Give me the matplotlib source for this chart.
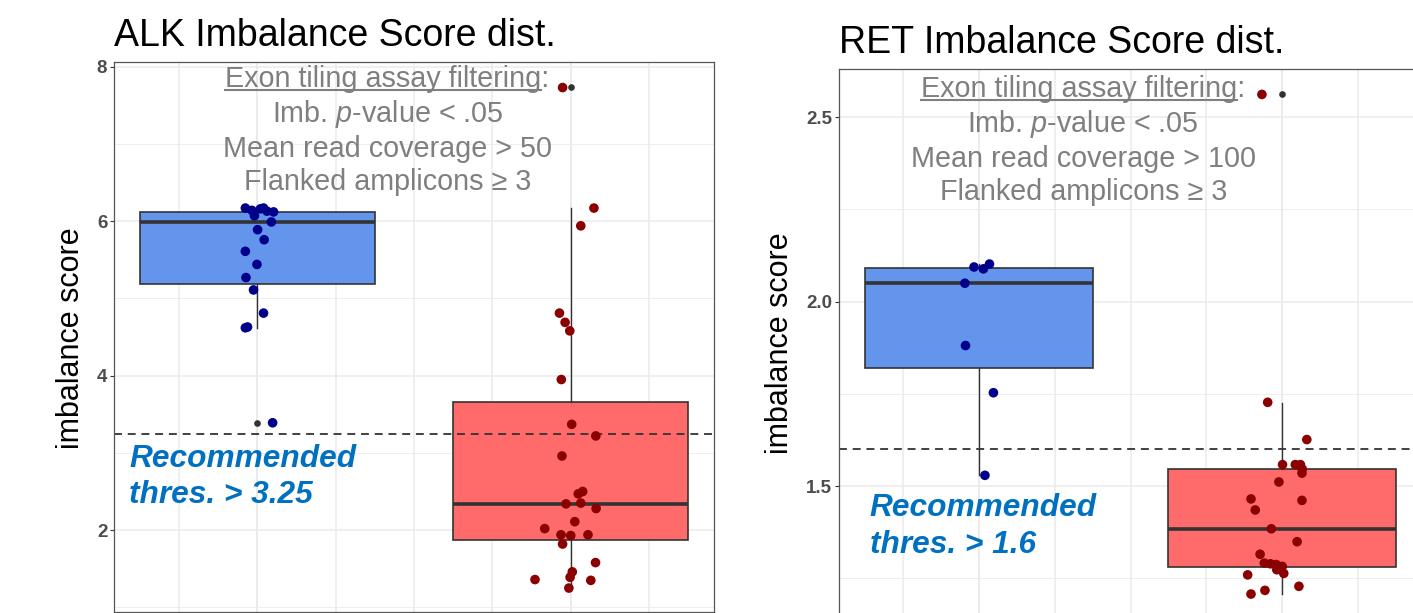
import matplotlib
matplotlib.use("Agg")
import matplotlib.pyplot as plt
from matplotlib.lines import Line2D

plt.rcParams['font.family'] = ['Liberation Sans', 'DejaVu Sans']
plt.rcParams['mathtext.fontset'] = 'custom'
plt.rcParams['mathtext.rm'] = 'Liberation Sans'
plt.rcParams['mathtext.it'] = 'Liberation Sans:italic'

# ---- ALK data ----
alk_blue_x = [0.962, 0.983, 0.991, 1.020, 1.031, 1.052, 1.010, 1.045, 1.001, 1.022,
              0.962, 0.999, 0.964, 0.988, 1.020, 0.962, 0.969, 1.049]
alk_blue_y = [6.17, 6.14, 6.07, 6.17, 6.13, 6.12, 6.16, 5.99, 5.89, 5.76,
              5.61, 5.44, 5.27, 5.11, 4.81, 4.62, 4.63, 3.39]
alk_red_x = [2.074, 2.032, 1.964, 1.982, 1.997, 1.970, 2.003, 2.080, 1.972, 2.024,
             2.038, 1.985, 2.032, 2.081, 2.013, 1.917, 1.969, 2.000, 2.055, 1.974,
             2.079, 2.005, 1.998, 1.886, 2.064, 1.994, 1.974]
alk_red_y = [6.17, 5.94, 4.81, 4.69, 4.58, 3.95, 3.37, 3.22, 2.96, 2.47,
             2.50, 2.34, 2.35, 2.28, 2.11, 2.02, 1.94, 1.93, 1.94, 1.82,
             1.58, 1.46, 1.39, 1.36, 1.35, 1.25, 7.73]
# box stats: q1, median, q3, whisker low, whisker high, outliers
alk_blue_box = [5.185, 5.99, 6.12, 4.62, 6.17, [3.39]]
alk_red_box = [1.87, 2.34, 3.66, 1.22, 6.17, [7.74]]
alk_thres = 3.25

# ---- RET data ----
ret_blue_x = [0.984, 1.015, 1.035, 0.954, 0.956, 1.048, 1.020]
ret_blue_y = [2.094, 2.089, 2.102, 2.050, 1.881, 1.753, 1.529]
ret_red_x = [1.952, 2.081, 2.001, 2.043, 2.060, 2.066, 2.065, 1.989, 1.897, 2.065,
             1.911, 1.964, 2.049, 1.927, 1.941, 1.961, 1.980, 2.000, 1.982, 2.005,
             1.886, 2.055, 1.943, 1.897, 1.933]
ret_red_y = [1.727, 1.626, 1.558, 1.558, 1.558, 1.546, 1.535, 1.511, 1.465, 1.461,
             1.435, 1.384, 1.349, 1.315, 1.291, 1.289, 1.287, 1.282, 1.273, 1.263,
             1.259, 1.228, 1.217, 1.207, 2.562]
ret_blue_box = [1.819, 2.050, 2.091, 1.53, 2.102, []]
ret_red_box = [1.280, 1.383, 1.546, 1.207, 1.725, [2.562]]
ret_thres = 1.6

W, H = 1413, 613
fig = plt.figure(figsize=(W / 100, H / 100), dpi=100)


def px_axes(x0, x1, ytop, ybot):
    return fig.add_axes([x0 / W, 1 - ybot / H, (x1 - x0) / W, (ybot - ytop) / H])


GREY = '#7F7F7F'
BLUE_TXT = '#0070C0'


def panel(ax, title, bx, by, rx, ry, bbox, rbox, thres, yticks, ylabels, yminor,
          cov, tx, tys, rec_x, rec_ys, lab_xy):
    ax.set_axisbelow(True)
    ax.set_xticks([0.75, 1.0, 1.25, 1.5, 1.75, 2.0, 2.25])
    ax.tick_params(axis='x', length=0, labelbottom=False)
    ax.set_yticks(yticks, labels=ylabels, fontweight='bold')
    ax.set_yticks(yminor, minor=True)
    ax.tick_params(axis='y', which='major', labelsize=13.5, labelcolor='#4D4D4D',
                   color='#333333', length=2.8, width=0.8, pad=2)
    ax.tick_params(axis='y', which='minor', length=0)
    ax.grid(which='major', color='#EBEBEB', lw=1.1)
    ax.grid(which='minor', axis='y', color='#EBEBEB', lw=0.6)
    for s in ax.spines.values():
        s.set_color('#555555')
        s.set_linewidth(0.9)

    stats = []
    for b in (bbox, rbox):
        stats.append(dict(q1=b[0], med=b[1], q3=b[2], whislo=b[3], whishi=b[4], fliers=b[5]))
    bp = ax.bxp(stats, positions=[1, 2], widths=0.75, patch_artist=True, showcaps=False,
                boxprops=dict(edgecolor='#333333', lw=1.2),
                medianprops=dict(color='#333333', lw=2.6),
                whiskerprops=dict(color='#333333', lw=1.0),
                flierprops=dict(marker='o', markerfacecolor='#333333',
                                markeredgecolor='none', markersize=4.8))
    bp['boxes'][0].set_facecolor('#6495ED')
    bp['boxes'][1].set_facecolor('#FF6A6A')

    ax.axhline(thres, color='#333333', lw=1.3, ls=(0, (4.4, 3.2)), zorder=2.5)
    ax.scatter(bx, by, s=48, c='#00008B', edgecolors='none', zorder=3)
    ax.scatter(rx, ry, s=48, c='#8B0000', edgecolors='none', zorder=3)

    ax.set_title(title, loc='left', fontsize=27, pad=11.5)
    ax.set_ylabel('imbalance score', fontsize=22, va='center', ha='center')
    ax.yaxis.set_label_coords(*lab_xy)

    lines = ['Exon tiling assay filtering:', r'Imb. $\mathit{p}$-value < .05',
             'Mean read coverage > %d' % cov, 'Flanked amplicons \u2265 3']
    heads = []
    for ln, ty in zip(lines, tys):
        t = ax.text(tx, ty, ln, ha='center', va='baseline', fontsize=20.7, color=GREY)
        heads.append(t)
    ax.text(rec_x, rec_ys[0], 'Recommended', ha='left', va='baseline', fontsize=22.8,
            fontweight='bold', fontstyle='italic', color=BLUE_TXT)
    ax.text(rec_x, rec_ys[1], 'thres. > %s' % thres, ha='left', va='baseline', fontsize=22.8,
            fontweight='bold', fontstyle='italic', color=BLUE_TXT)
    return heads[0], tys[0]


ax1 = px_axes(114, 714, 62, 611.7)
ax1.set_xlim(0.543, 2.457)
ax1.set_ylim(0.944, 8.061)
h1 = panel(ax1, 'ALK Imbalance Score dist.', alk_blue_x, alk_blue_y, alk_red_x, alk_red_y,
           alk_blue_box, alk_red_box, alk_thres, [2, 4, 6, 8], ['2', '4', '6', '8'],
           [1, 3, 5, 7], 50, 1.415, [7.733, 7.288, 6.834, 6.403], 0.591, [2.819, 2.345],
           (-0.0717, 0.497))

ax2 = px_axes(839, 1422.1, 69, 633.5)
ax2.set_xlim(0.539, 2.461)
ax2.set_ylim(1.10, 2.631)
h2 = panel(ax2, 'RET Imbalance Score dist.', ret_blue_x, ret_blue_y, ret_red_x, ret_red_y,
           ret_blue_box, ret_red_box, ret_thres, [1.5, 2.0, 2.5], ['1.5', '2.0', '2.5'],
           [1.25, 1.75, 2.25], 100, 1.344, [2.556, 2.461, 2.366, 2.276], 0.64, [1.418, 1.318],
           (-0.1012, 0.5137))

# underline the heading (without the colon)
fig.canvas.draw()
r = fig.canvas.get_renderer()
for ax, (t, ty) in ((ax1, h1), (ax2, h2)):
    bb = t.get_window_extent(r)
    tmp = fig.text(0, 0, 'Exon tiling assay filtering', fontsize=20.7)
    w = tmp.get_window_extent(r).width
    tmp.remove()
    yb = ax.transData.transform((1, ty))[1] - 3
    fig.add_artist(Line2D([bb.x0 / W, (bb.x0 + w) / W], [yb / H, yb / H],
                          transform=fig.transFigure, color=GREY, lw=1.5))

fig.savefig('out.png', dpi=100)
